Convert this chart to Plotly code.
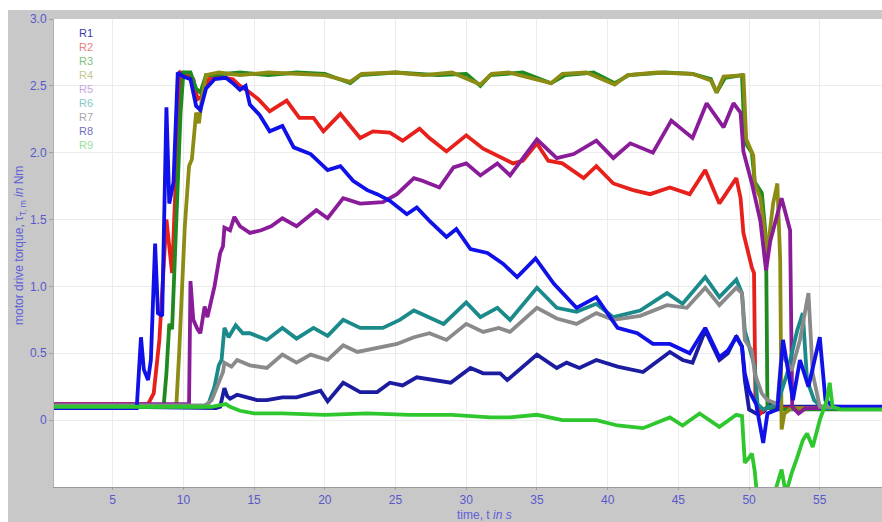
import plotly.graph_objects as go

# ---- measured torque traces, time in s / torque in Nm ----
T_R1 = [0.85, 6.0, 12.3, 12.6, 12.9, 13.1, 13.3, 13.8, 14.5, 15.2, 15.9, 17.0, 18.0, 18.7, 19.7, 20.2,
        21.3, 22.5, 23.7, 24.6, 25.5, 26.5, 27.9, 28.9, 30.3, 31.2, 32.4, 32.9, 35.0, 36.4, 37.1, 38.0,
        39.2, 40.7, 42.5, 44.4, 45.3, 46.0, 46.9, 47.9, 48.5, 49.1, 49.5, 49.7, 50.0, 50.5, 51.0, 51.5,
        52.0, 56.0, 59.4]
V_R1 = [0.09, 0.10, 0.09, 0.10, 0.24, 0.18, 0.16, 0.19, 0.17, 0.15, 0.15, 0.17, 0.17, 0.19, 0.22, 0.14,
        0.28, 0.21, 0.21, 0.28, 0.26, 0.32, 0.30, 0.28, 0.39, 0.35, 0.35, 0.30, 0.49, 0.39, 0.43, 0.39,
        0.45, 0.40, 0.36, 0.51, 0.45, 0.43, 0.67, 0.45, 0.50, 0.63, 0.55, 0.30, 0.08, 0.05, 0.06, 0.12,
        0.10, 0.10, 0.09]

T_R2 = [0.85, 7.5, 7.9, 8.3, 8.8, 9.2, 9.5, 9.8, 10.3, 10.7, 11.0, 11.3, 11.8, 12.5, 13.5, 14.0, 14.7,
        15.3, 16.1, 17.3, 18.2, 19.2, 19.9, 21.1, 22.5, 23.4, 24.6, 25.5, 26.7, 27.4, 28.6, 30.0, 31.2,
        32.4, 33.3, 34.0, 35.0, 35.8, 36.8, 38.3, 39.2, 40.4, 41.8, 43.0, 44.4, 45.8, 46.9, 47.9, 49.1,
        49.4, 49.6, 50.2, 50.35, 50.45, 50.8, 51.2, 59.4]
V_R2 = [0.12, 0.12, 0.20, 0.60, 1.50, 1.10, 1.90, 2.60, 2.58, 2.55, 2.40, 2.42, 2.55, 2.57, 2.55, 2.50, 2.45,
        2.40, 2.31, 2.39, 2.26, 2.26, 2.16, 2.29, 2.11, 2.16, 2.15, 2.09, 2.18, 2.11, 2.01, 2.13, 2.03,
        1.97, 1.92, 1.94, 2.07, 1.94, 1.92, 1.81, 1.90, 1.77, 1.72, 1.69, 1.74, 1.69, 1.87, 1.62, 1.81,
        1.66, 1.40, 1.14, 1.10, 0.15, 0.05, 0.09, 0.09]

T_R3 = [0.85, 8.6, 8.8, 9.0, 9.2, 9.5, 9.8, 10.0, 10.5, 10.9, 11.2, 11.6, 12.0, 14.0, 16.0, 18.0, 20.0,
        21.8, 22.5, 25.0, 28.0, 30.0, 31.0, 31.7, 34.0, 36.0, 37.0, 39.0, 40.5, 41.5, 44.0, 46.0, 47.3,
        47.7, 48.3, 49.5, 49.7, 50.2, 50.4, 50.9, 51.2, 51.3, 51.6, 59.4]
V_R3 = [0.10, 0.10, 0.35, 0.72, 0.68, 1.50, 2.30, 2.60, 2.60, 2.48, 2.45, 2.58, 2.58, 2.60, 2.58, 2.60, 2.59,
        2.52, 2.58, 2.60, 2.58, 2.59, 2.50, 2.58, 2.60, 2.52, 2.58, 2.60, 2.52, 2.58, 2.60, 2.59, 2.55,
        2.45, 2.56, 2.58, 2.08, 2.00, 1.78, 1.70, 1.35, 0.10, 0.08, 0.08]

T_R4 = [0.85, 9.5, 9.7, 9.9, 10.1, 10.4, 10.6, 10.9, 11.1, 11.3, 11.6, 12.5, 14.0, 16.0, 18.0, 20.0, 21.8,
        22.6, 25.0, 27.0, 29.0, 31.0, 31.8, 33.0, 36.0, 36.8, 38.5, 40.5, 41.4, 43.5, 46.0, 47.3, 47.7,
        48.2, 49.6, 49.8, 50.3, 50.4, 50.8, 51.1, 51.3, 51.5, 51.7, 52.0, 52.2, 52.3, 52.5, 53.0, 59.4]
V_R4 = [0.11, 0.11, 0.50, 1.00, 1.45, 1.90, 1.95, 2.30, 2.22, 2.40, 2.58, 2.60, 2.58, 2.60, 2.59, 2.58, 2.53,
        2.59, 2.60, 2.58, 2.60, 2.51, 2.59, 2.60, 2.52, 2.59, 2.60, 2.51, 2.58, 2.60, 2.59, 2.54, 2.45,
        2.57, 2.58, 2.10, 1.98, 1.77, 1.66, 1.42, 1.25, 1.44, 1.62, 1.77, 1.20, -0.07, 0.05, 0.09, 0.09]

T_R5 = [0.85, 10.4, 10.5, 10.7, 11.0, 11.2, 11.5, 11.7, 12.2, 12.6, 12.8, 12.9, 13.3, 13.6, 14.0, 14.7,
        15.5, 16.2, 17.0, 18.0, 19.4, 20.2, 21.3, 22.5, 24.1, 25.1, 26.3, 26.9, 28.1, 29.1, 30.0, 31.0,
        32.2, 33.1, 35.0, 36.4, 37.6, 39.2, 40.4, 41.6, 43.2, 44.5, 46.0, 47.0, 48.2, 48.9, 49.4, 49.6,
        50.2, 50.8, 51.2, 51.5, 52.3, 52.9, 53.05, 53.5, 54.0, 59.4]
V_R5 = [0.12, 0.12, 1.04, 0.75, 0.68, 0.65, 0.85, 0.77, 1.00, 1.25, 1.30, 1.44, 1.42, 1.52, 1.45, 1.40,
        1.42, 1.45, 1.51, 1.45, 1.57, 1.51, 1.66, 1.62, 1.63, 1.69, 1.81, 1.79, 1.74, 1.89, 1.92, 1.83,
        1.92, 1.83, 2.10, 1.96, 1.99, 2.09, 1.96, 2.07, 2.00, 2.24, 2.11, 2.37, 2.19, 2.37, 2.30, 2.01,
        1.77, 1.49, 1.12, 1.34, 1.66, 1.42, 0.10, 0.05, 0.09, 0.09]

T_R6 = [0.85, 11.4, 11.8, 12.2, 12.5, 12.7, 12.9, 13.2, 13.7, 14.2, 14.7, 15.9, 17.0, 18.0, 19.2, 20.2,
        21.3, 22.5, 24.1, 25.3, 26.3, 27.2, 28.4, 30.0, 31.0, 32.2, 33.1, 35.0, 36.4, 37.8, 39.2, 40.4,
        42.3, 44.2, 45.3, 46.9, 47.9, 49.1, 49.5, 49.7, 50.2, 50.4, 50.6, 51.0, 52.0, 52.7, 53.4, 53.8,
        54.1, 54.6, 55.2, 59.4]
V_R6 = [0.10, 0.10, 0.13, 0.25, 0.41, 0.45, 0.69, 0.62, 0.71, 0.65, 0.65, 0.60, 0.69, 0.61, 0.69, 0.63,
        0.75, 0.69, 0.69, 0.75, 0.82, 0.78, 0.72, 0.88, 0.77, 0.84, 0.75, 0.99, 0.84, 0.81, 0.87, 0.77,
        0.82, 0.95, 0.87, 1.07, 0.92, 1.05, 0.95, 0.67, 0.47, 0.40, 0.12, 0.08, 0.12, 0.35, 0.67, 0.80,
        0.30, 0.15, 0.09, 0.09]

T_R7 = [0.85, 11.6, 12.0, 12.5, 12.8, 12.9, 13.4, 13.8, 14.5, 14.7, 15.9, 17.0, 18.0, 19.0, 20.2, 21.3,
        22.3, 23.7, 25.1, 26.3, 27.4, 28.6, 30.0, 31.2, 32.3, 33.1, 35.0, 36.4, 37.8, 39.2, 40.4, 42.3,
        44.2, 45.6, 46.9, 47.9, 49.1, 49.5, 49.7, 50.2, 50.4, 50.9, 51.3, 52.0, 52.3, 53.0, 53.6, 54.2,
        54.5, 55.0, 59.4]
V_R7 = [0.11, 0.11, 0.15, 0.28, 0.36, 0.43, 0.40, 0.45, 0.42, 0.41, 0.39, 0.49, 0.43, 0.49, 0.45, 0.56,
        0.51, 0.54, 0.57, 0.62, 0.65, 0.60, 0.72, 0.66, 0.69, 0.66, 0.84, 0.76, 0.72, 0.80, 0.75, 0.78,
        0.86, 0.84, 0.99, 0.86, 0.99, 0.95, 0.60, 0.52, 0.35, 0.20, 0.15, 0.12, 0.50, 0.37, 0.60, 0.95,
        0.35, 0.10, 0.09]

T_R8 = [0.85, 6.7, 7.0, 7.2, 7.5, 7.7, 8.0, 8.2, 8.5, 8.8, 9.0, 9.3, 9.6, 10.0, 10.5, 10.9, 11.2, 11.6,
        12.2, 13.0, 13.5, 14.0, 14.4, 14.7, 15.4, 16.1, 17.0, 17.8, 19.0, 20.2, 21.1, 22.0, 23.0, 23.7,
        24.6, 25.8, 26.5, 27.4, 28.6, 29.3, 30.3, 31.5, 32.6, 33.6, 34.9, 36.2, 37.8, 39.2, 40.7, 42.1,
        43.2, 44.4, 45.8, 46.9, 47.9, 48.5, 49.1, 49.5, 49.7, 50.0, 50.5, 51.0, 51.3, 52.0, 52.4, 52.8,
        53.1, 53.6, 54.2, 55.0, 55.4, 56.0, 59.4]
V_R8 = [0.09, 0.09, 0.62, 0.38, 0.30, 0.45, 1.32, 0.80, 0.78, 2.34, 1.62, 1.78, 2.60, 2.57, 2.55, 2.35,
        2.32, 2.48, 2.55, 2.56, 2.52, 2.47, 2.50, 2.36, 2.28, 2.16, 2.20, 2.04, 1.99, 1.87, 1.90, 1.79,
        1.72, 1.69, 1.64, 1.54, 1.59, 1.49, 1.37, 1.43, 1.28, 1.25, 1.17, 1.07, 1.21, 1.02, 0.84, 0.92,
        0.69, 0.65, 0.57, 0.57, 0.50, 0.69, 0.47, 0.52, 0.62, 0.55, 0.35, 0.22, 0.12, -0.17, 0.05, 0.08,
        0.60, 0.35, 0.15, 0.45, 0.25, 0.62, 0.15, 0.10, 0.10]

T_R9 = [0.85, 12.0, 12.5, 13.0, 13.3, 14.0, 15.0, 17.0, 20.0, 23.0, 26.0, 29.0, 31.7, 33.1, 35.0, 36.8,
        39.2, 40.7, 42.5, 44.4, 45.3, 46.5, 47.9, 49.1, 49.5, 49.7, 50.0, 50.2, 50.4, 50.6, 51.5, 52.3,
        52.6, 53.0, 53.4, 53.8, 54.1, 54.5, 55.0, 55.5, 55.7, 55.9, 56.5, 59.4]
V_R9 = [0.10, 0.10, 0.11, 0.12, 0.10, 0.07, 0.05, 0.05, 0.04, 0.05, 0.04, 0.04, 0.02, 0.02, 0.04, 0.00,
        0.00, -0.04, -0.06, 0.02, -0.04, 0.05, -0.05, 0.04, 0.03, -0.32, -0.28, -0.25, -0.38, -0.60, -0.65, -0.37,
        -0.55, -0.40, -0.28, -0.15, -0.10, -0.20, 0.00, 0.15, 0.28, 0.10, 0.08, 0.08]

NAMES = ["R1", "R2", "R3", "R4", "R5", "R6", "R7", "R8", "R9"]
LINE_COLORS = ["#1c1ca0", "#e8201c", "#1f8a1f", "#8c8c14", "#8a1c9a",
               "#1a8a8a", "#8a8a8a", "#1010e8", "#2ec82e"]
LEGEND_COLORS = ["#3b3ba8", "#e88080", "#7fbf7f", "#c8c890", "#c8a8e0",
                 "#88c8c8", "#a8a8a8", "#7070c0", "#98e098"]

X_TICKS = [5, 10, 15, 20, 25, 30, 35, 40, 45, 50, 55]
Y_TICKS = [0, 0.5, 1.0, 1.5, 2.0, 2.5, 3.0]
Y_TICK_TEXT = ["0", "0.5", "1.0", "1.5", "2.0", "2.5", "3.0"]

series = [(T_R1, V_R1), (T_R2, V_R2), (T_R3, V_R3), (T_R4, V_R4), (T_R5, V_R5),
          (T_R6, V_R6), (T_R7, V_R7), (T_R8, V_R8), (T_R9, V_R9)]

# layout geometry (pixels)
W, H = 882, 522
ML, MR, MT, MB = 54, 0, 19, 35
PW, PH = W - ML - MR, H - MT - MB


def px_x(p):
    return (p - ML) / PW


def px_y(p):
    return 1 - (p - MT) / PH


fig = go.Figure()
for name, color, (t, v) in zip(NAMES, LINE_COLORS, series):
    fig.add_trace(go.Scatter(x=t, y=v, mode="lines", name=name,
                             line=dict(color=color, width=3.8), showlegend=False))

tick_font = dict(family="Liberation Sans, Arial, sans-serif", size=12, color="#5858cc")

fig.update_layout(
    width=W, height=H,
    margin=dict(l=ML, r=MR, t=MT, b=MB),
    paper_bgcolor="#c8c8c8",
    plot_bgcolor="white",
    xaxis=dict(range=[0.85, 59.4], tickvals=X_TICKS, ticks="outside", ticklen=2,
               tickcolor="#a0a0a0", showgrid=True, gridcolor="#ececec", gridwidth=1,
               zeroline=False, showline=True, linecolor="#9a9a9a", linewidth=1,
               tickfont=tick_font),
    yaxis=dict(range=[-0.5, 3.0], tickvals=Y_TICKS, ticktext=Y_TICK_TEXT, ticks="outside",
               ticklen=4, tickcolor="#a0a0a0", showgrid=True, gridcolor="#ececec",
               gridwidth=1, zeroline=False, showline=True, linecolor="#b0b0b0", linewidth=1,
               tickfont=tick_font),
)

# white margin strips at the top and left of the frame
fig.add_shape(type="rect", xref="paper", yref="paper", x0=px_x(0), x1=px_x(W),
              y0=px_y(10), y1=px_y(0), fillcolor="white", line_width=0)
fig.add_shape(type="rect", xref="paper", yref="paper", x0=px_x(0), x1=px_x(8),
              y0=px_y(H), y1=px_y(0), fillcolor="white", line_width=0)

# series labels in the upper-left corner
for i, (name, col) in enumerate(zip(NAMES, LEGEND_COLORS)):
    fig.add_annotation(xref="paper", yref="paper", x=px_x(77), y=px_y(32.7 + 14 * i),
                       xanchor="left", yanchor="middle", text=name, showarrow=False,
                       font=dict(family="Liberation Sans, Arial, sans-serif", size=11, color=col))

title_font = dict(family="Liberation Sans, Arial, sans-serif", size=12, color="#6060d8")
fig.add_annotation(xref="paper", yref="paper", x=px_x(484), y=px_y(515),
                   xanchor="center", yanchor="middle", showarrow=False,
                   text="time, t <i>in</i> <i>s</i>", font=title_font)
fig.add_annotation(xref="paper", yref="paper", x=px_x(20), y=px_y(246),
                   xanchor="center", yanchor="middle", showarrow=False, textangle=-90,
                   text="motor drive torque, τ<sub>T, m</sub> <i>in</i> Nm", font=title_font)

fig.write_html("out.html")
